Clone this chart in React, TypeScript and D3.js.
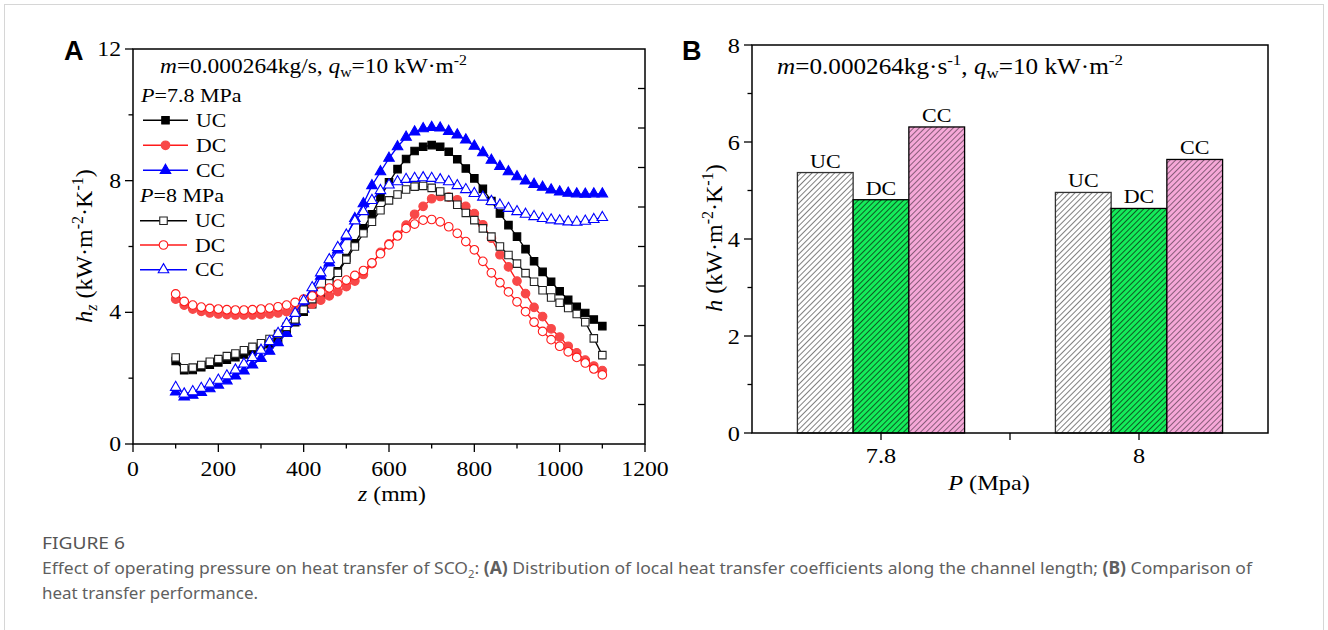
import React from 'react';
import * as d3 from 'd3';

// ---------- DATA ----------
const zValues = [100, 120, 140, 160, 180, 200, 220, 240, 260, 280, 300, 320, 340, 360, 380, 400, 420, 440, 460, 480, 500, 520, 540, 560, 580, 600, 620, 640, 660, 680, 700, 720, 740, 760, 780, 800, 820, 840, 860, 880, 900, 920, 940, 960, 980, 1000, 1020, 1040, 1060, 1080, 1100];

const uc78 = [2.52, 2.24, 2.25, 2.33, 2.41, 2.48, 2.56, 2.64, 2.72, 2.81, 2.91, 3.03, 3.18, 3.40, 3.70, 4.02, 4.25, 4.55, 4.88, 5.25, 5.65, 6.10, 6.55, 6.98, 7.50, 7.95, 8.35, 8.66, 8.90, 9.03, 9.08, 9.03, 8.88, 8.65, 8.37, 8.07, 7.75, 7.38, 7.00, 6.65, 6.30, 5.92, 5.55, 5.23, 4.93, 4.64, 4.38, 4.17, 3.98, 3.78, 3.58];
const dc78 = [4.40, 4.22, 4.10, 4.03, 3.98, 3.95, 3.93, 3.92, 3.92, 3.92, 3.93, 3.95, 3.98, 4.02, 4.08, 4.15, 4.25, 4.37, 4.50, 4.63, 4.78, 4.95, 5.15, 5.48, 5.82, 6.08, 6.35, 6.65, 6.98, 7.22, 7.45, 7.52, 7.50, 7.42, 7.22, 7.00, 6.66, 6.25, 5.75, 5.38, 4.95, 4.57, 4.15, 3.87, 3.50, 3.25, 2.97, 2.77, 2.55, 2.37, 2.23];
const cc78 = [1.58, 1.43, 1.48, 1.57, 1.68, 1.79, 1.92, 2.07, 2.22, 2.40, 2.60, 2.82, 3.08, 3.36, 3.72, 4.10, 4.60, 5.10, 5.50, 5.90, 6.30, 6.85, 7.30, 7.85, 8.27, 8.68, 9.03, 9.32, 9.48, 9.58, 9.62, 9.60, 9.50, 9.39, 9.24, 9.05, 8.85, 8.62, 8.43, 8.27, 8.12, 7.99, 7.89, 7.80, 7.72, 7.66, 7.62, 7.60, 7.59, 7.60, 7.60];
const uc8 = [2.63, 2.30, 2.32, 2.40, 2.50, 2.58, 2.67, 2.75, 2.85, 2.95, 3.06, 3.19, 3.34, 3.56, 3.79, 4.08, 4.40, 4.65, 4.88, 5.20, 5.60, 6.00, 6.40, 6.75, 7.10, 7.40, 7.58, 7.73, 7.82, 7.84, 7.78, 7.67, 7.50, 7.27, 7.02, 6.80, 6.55, 6.30, 6.00, 5.74, 5.48, 5.19, 4.93, 4.67, 4.45, 4.29, 4.13, 3.95, 3.70, 3.21, 2.70];
const dc8 = [4.56, 4.33, 4.22, 4.16, 4.12, 4.10, 4.08, 4.07, 4.07, 4.08, 4.10, 4.13, 4.17, 4.22, 4.30, 4.40, 4.50, 4.62, 4.74, 4.86, 4.98, 5.12, 5.27, 5.50, 5.78, 6.05, 6.32, 6.55, 6.68, 6.80, 6.82, 6.75, 6.60, 6.40, 6.15, 5.90, 5.55, 5.20, 4.90, 4.62, 4.32, 4.02, 3.70, 3.42, 3.17, 2.97, 2.80, 2.63, 2.46, 2.28, 2.10];
const cc8 = [1.72, 1.52, 1.59, 1.69, 1.82, 1.94, 2.07, 2.25, 2.43, 2.63, 2.85, 3.11, 3.36, 3.66, 3.97, 4.35, 4.75, 5.20, 5.60, 5.97, 6.35, 6.78, 7.06, 7.40, 7.70, 7.87, 7.97, 8.04, 8.07, 8.09, 8.07, 8.03, 7.97, 7.85, 7.73, 7.61, 7.50, 7.37, 7.26, 7.16, 7.06, 6.98, 6.91, 6.85, 6.81, 6.78, 6.75, 6.74, 6.77, 6.82, 6.88];

const xTicksA = [0, 200, 400, 600, 800, 1000, 1200];
const xMinorA = [100, 300, 500, 700, 900, 1100];
const yTicksA = [0, 4, 8, 12];
const yMinorA = [2, 6, 10];

const pressureCats = ['7.8', '8'];
const barNames = ['UC', 'DC', 'CC'];
const barUC = [5.37, 4.96];
const barDC = [4.81, 4.63];
const barCC = [6.31, 5.64];
const yTicksB = [0, 2, 4, 6, 8];
const yMinorB = [1, 3, 5, 7];

// ---------- STYLE ----------
const SERIF = '"Liberation Serif","Times New Roman",serif';
const SANS = '"Liberation Sans",Arial,sans-serif';
const SX = 1.13;
const RED = '#ff1a1a';
const RED_FILL = '#f84848';
const BLUE = '#0000ff';

type Series = { name: string; values: number[]; color: string; fill: string; mstroke: string; shape: 'sq' | 'ci' | 'tr' };
const seriesA: Series[] = [
  { name: 'UC78', values: uc78, color: '#000', fill: '#000', mstroke: '#000', shape: 'sq' },
  { name: 'DC78', values: dc78, color: RED, fill: RED_FILL, mstroke: RED_FILL, shape: 'ci' },
  { name: 'CC78', values: cc78, color: BLUE, fill: BLUE, mstroke: BLUE, shape: 'tr' },
  { name: 'UC8', values: uc8, color: '#000', fill: '#fff', mstroke: '#222', shape: 'sq' },
  { name: 'DC8', values: dc8, color: RED, fill: '#fff', mstroke: RED, shape: 'ci' },
  { name: 'CC8', values: cc8, color: BLUE, fill: '#fff', mstroke: BLUE, shape: 'tr' },
];

const symPath = (shape: string) => {
  const t = shape === 'sq' ? d3.symbolSquare : shape === 'ci' ? d3.symbolCircle : d3.symbolTriangle;
  const size = shape === 'sq' ? 56 : shape === 'ci' ? 58 : 48;
  return d3.symbol().type(t).size(size)() as string;
};

const ST = ({ x, y, anchor = 'start', size = 21, children }: any) => (
  <text transform={`translate(${x},${y}) scale(${SX},1)`} textAnchor={anchor} fontSize={size} fontFamily={SERIF} fill="#000">
    {children}
  </text>
);

export default function App() {
  // Panel A scales
  const xA = d3.scaleLinear().domain([0, 1200]).range([133, 645]);
  const yA = d3.scaleLinear().domain([0, 12]).range([444, 49]);
  const line = d3.line<number>().x((_, i) => xA(zValues[i])).y((d) => yA(d));
  const rightTicksA = d3.range(1, 10).map((i) => yA((12 * i) / 10));

  // Panel B scales
  const xB = d3.scaleLinear().domain([0, 4]).range([752, 1268]);
  const yB = d3.scaleLinear().domain([0, 8]).range([433, 45]);
  const bw = (xB(1) - xB(0)) * 0.432;
  const barData = [barUC, barDC, barCC];
  const patIds = ['hatchUC', 'hatchDC', 'hatchCC'];
  const barStroke = ['#333', '#000', '#000'];

  const legendRows = [
    { s: seriesA[0], y: 120.3, x1: 143, x2: 188, lx: 196 },
    { s: seriesA[1], y: 145.3, x1: 143, x2: 188, lx: 196 },
    { s: seriesA[2], y: 170.3, x1: 143, x2: 188, lx: 196 },
    { s: seriesA[3], y: 220.8, x1: 140, x2: 187, lx: 195 },
    { s: seriesA[4], y: 245.0, x1: 140, x2: 187, lx: 195 },
    { s: seriesA[5], y: 269.7, x1: 140, x2: 187, lx: 195 },
  ];
  const legendLabels = ['UC', 'DC', 'CC', 'UC', 'DC', 'CC'];

  return (
    <svg width={1328} height={630} style={{ position: 'absolute', left: 0, top: 0, background: '#fff' }}>
      <defs>
        <pattern id="hatchUC" patternUnits="userSpaceOnUse" width={4} height={4} patternTransform="rotate(45)">
          <rect width={4} height={4} fill="#fff" />
          <line x1={0} y1={0} x2={0} y2={4} stroke="#3a3a3a" strokeWidth={1.3} />
        </pattern>
        <pattern id="hatchDC" patternUnits="userSpaceOnUse" width={4} height={4} patternTransform="rotate(45)">
          <rect width={4} height={4} fill="#14ec5a" />
          <line x1={0} y1={0} x2={0} y2={4} stroke="#0a2a12" strokeWidth={1.5} />
        </pattern>
        <pattern id="hatchCC" patternUnits="userSpaceOnUse" width={4} height={4} patternTransform="rotate(45)">
          <rect width={4} height={4} fill="#f6a8d8" />
          <line x1={0} y1={0} x2={0} y2={4} stroke="#3c2a38" strokeWidth={1.2} />
        </pattern>
      </defs>

      <rect x={4.5} y={4.5} width={1319} height={700} fill="none" stroke="#d6d6d6" strokeWidth={1} />

      {/* ================= PANEL A ================= */}
      <text x={64} y={60} fontFamily={SANS} fontWeight="bold" fontSize={27}>A</text>

      {seriesA.map((s) => (
        <g key={s.name}>
          <path d={line(s.values) as string} fill="none" stroke={s.color} strokeWidth={1.3} />
          {s.values.map((v, i) => (
            <path key={i} d={symPath(s.shape)} transform={`translate(${xA(zValues[i])},${yA(v)})`} fill={s.fill} stroke={s.mstroke} strokeWidth={1.1} />
          ))}
        </g>
      ))}

      <rect x={xA(0)} y={yA(12)} width={xA(1200) - xA(0)} height={yA(0) - yA(12)} fill="none" stroke="#000" strokeWidth={1.5} />
      {xTicksA.map((t) => (
        <g key={'xa' + t}>
          <line x1={xA(t)} x2={xA(t)} y1={yA(0)} y2={yA(0) + 8} stroke="#000" strokeWidth={1.3} />
          <ST x={xA(t)} y={476} anchor="middle">{t}</ST>
        </g>
      ))}
      {xMinorA.map((t) => (
        <line key={'xam' + t} x1={xA(t)} x2={xA(t)} y1={yA(0)} y2={yA(0) + 4.5} stroke="#000" strokeWidth={1.3} />
      ))}
      {yTicksA.map((t) => (
        <g key={'ya' + t}>
          <line x1={xA(0) - 8} x2={xA(0)} y1={yA(t)} y2={yA(t)} stroke="#000" strokeWidth={1.3} />
          <ST x={121} y={yA(t) + 7} anchor="end">{t}</ST>
        </g>
      ))}
      {yMinorA.map((t) => (
        <line key={'yam' + t} x1={xA(0) - 4.5} x2={xA(0)} y1={yA(t)} y2={yA(t)} stroke="#000" strokeWidth={1.3} />
      ))}
      {rightTicksA.map((y, i) => (
        <line key={'ra' + i} x1={xA(1200) - 7} x2={xA(1200)} y1={y} y2={y} stroke="#000" strokeWidth={1.3} />
      ))}

      <ST x={392} y={501} anchor="middle">
        <tspan fontStyle="italic">z</tspan>{' (mm)'}
      </ST>
      <text transform="translate(92,246) rotate(-90)" textAnchor="middle" fontSize={24} fontFamily={SERIF}>
        <tspan fontStyle="italic">h</tspan>
        <tspan fontStyle="italic" fontSize={16} dy={5}>z</tspan>
        <tspan dy={-5}>{' (kW·m'}</tspan>
        <tspan fontSize={16} dy={-9}>-2</tspan>
        <tspan dy={9}>·K</tspan>
        <tspan fontSize={16} dy={-9}>-1</tspan>
        <tspan dy={9}>)</tspan>
      </text>

      <ST x={160} y={73} size={20.7}>
        <tspan fontStyle="italic">m</tspan>
        <tspan>{'=0.000264kg/s, '}</tspan>
        <tspan fontStyle="italic">q</tspan>
        <tspan fontSize={14} dy={4}>w</tspan>
        <tspan dy={-4}>{'=10 kW·m'}</tspan>
        <tspan fontSize={14} dy={-8}>-2</tspan>
      </ST>

      <ST x={141} y={102} size={19.5}>
        <tspan fontStyle="italic">P</tspan>=7.8 MPa
      </ST>
      <ST x={140} y={202} size={19.5}>
        <tspan fontStyle="italic">P</tspan>=8 MPa
      </ST>
      {legendRows.map((r, i) => (
        <g key={'lg' + i}>
          <line x1={r.x1} x2={r.x2} y1={r.y} y2={r.y} stroke={r.s.color} strokeWidth={1.5} />
          <path d={symPath(r.s.shape)} transform={`translate(${(r.x1 + r.x2) / 2},${r.y})`} fill={r.s.fill} stroke={r.s.mstroke} strokeWidth={1.1} />
          <ST x={r.lx} y={r.y + 6.6} size={19.3}>{legendLabels[i]}</ST>
        </g>
      ))}

      {/* ================= PANEL B ================= */}
      <text x={682} y={60} fontFamily={SANS} fontWeight="bold" fontSize={27}>B</text>

      {pressureCats.map((c, ci) => {
        const cx = xB(1 + ci * 2);
        return (
          <g key={'grp' + c}>
            {barNames.map((b, bi) => {
              const v = barData[bi][ci];
              const x0 = cx + (bi - 1.5) * bw;
              return (
                <g key={b}>
                  <rect x={x0} y={yB(v)} width={bw} height={yB(0) - yB(v)} fill={`url(#${patIds[bi]})`} stroke={barStroke[bi]} strokeWidth={1.3} />
                  <ST x={x0 + bw / 2} y={yB(v) - 5} anchor="middle" size={19.5}>{b}</ST>
                </g>
              );
            })}
          </g>
        );
      })}

      <rect x={xB(0)} y={yB(8)} width={xB(4) - xB(0)} height={yB(0) - yB(8)} fill="none" stroke="#000" strokeWidth={1.5} />
      {[1, 2, 3].map((t) => (
        <line key={'xb' + t} x1={xB(t)} x2={xB(t)} y1={yB(0)} y2={yB(0) + 7} stroke="#000" strokeWidth={1.3} />
      ))}
      {pressureCats.map((c, ci) => (
        <ST key={'xbl' + c} x={xB(1 + ci * 2)} y={463} anchor="middle" size={21.5}>{c}</ST>
      ))}
      {yTicksB.map((t) => (
        <g key={'yb' + t}>
          <line x1={xB(0) - 8} x2={xB(0)} y1={yB(t)} y2={yB(t)} stroke="#000" strokeWidth={1.3} />
          <ST x={740} y={yB(t) + 7.5} anchor="end" size={21.5}>{t}</ST>
        </g>
      ))}
      {yMinorB.map((t) => (
        <line key={'ybm' + t} x1={xB(0) - 4.5} x2={xB(0)} y1={yB(t)} y2={yB(t)} stroke="#000" strokeWidth={1.3} />
      ))}

      <ST x={989} y={490} anchor="middle" size={21.5}>
        <tspan fontStyle="italic">P</tspan>{' (Mpa)'}
      </ST>
      <text transform="translate(722,238) rotate(-90)" textAnchor="middle" fontSize={24} fontFamily={SERIF}>
        <tspan fontStyle="italic">h</tspan>
        <tspan>{' (kW·m'}</tspan>
        <tspan fontSize={16} dy={-9}>-2</tspan>
        <tspan dy={9}>·K</tspan>
        <tspan fontSize={16} dy={-9}>-1</tspan>
        <tspan dy={9}>)</tspan>
      </text>

      <ST x={777} y={74} size={22.3}>
        <tspan fontStyle="italic">m</tspan>
        <tspan>{'=0.000264kg·s'}</tspan>
        <tspan fontSize={15} dy={-9}>-1</tspan>
        <tspan dy={9}>{', '}</tspan>
        <tspan fontStyle="italic">q</tspan>
        <tspan fontSize={15} dy={4}>w</tspan>
        <tspan dy={-4}>{'=10 kW·m'}</tspan>
        <tspan fontSize={15} dy={-9}>-2</tspan>
      </ST>

      {/* ================= CAPTION ================= */}
      <text x={42} y={549} fontFamily='"Noto Sans",sans-serif' fontSize={17} fill="#555" textLength={83} lengthAdjust="spacingAndGlyphs">FIGURE 6</text>
      <text x={42} y={574} fontFamily='"Noto Sans",sans-serif' fontSize={17} fill="#5f5f5f" textLength={1210} lengthAdjust="spacingAndGlyphs">
        <tspan>Effect of operating pressure on heat transfer of SCO</tspan>
        <tspan fontSize={11} dy={4}>2</tspan>
        <tspan dy={-4}>: </tspan>
        <tspan fontWeight="bold">(A)</tspan>
        <tspan> Distribution of local heat transfer coefficients along the channel length; </tspan>
        <tspan fontWeight="bold">(B)</tspan>
        <tspan> Comparison of</tspan>
      </text>
      <text x={42} y={599} fontFamily='"Noto Sans",sans-serif' fontSize={17} fill="#5f5f5f" textLength={216} lengthAdjust="spacingAndGlyphs">heat transfer performance.</text>
    </svg>
  );
}
